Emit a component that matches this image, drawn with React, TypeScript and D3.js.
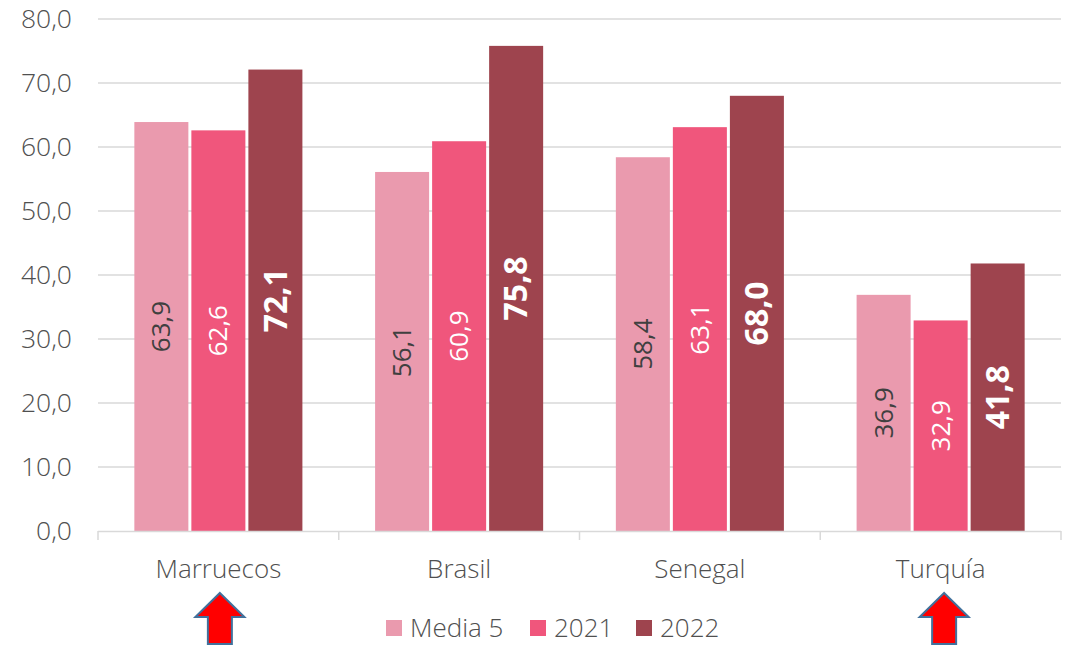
import { useRef, useEffect } from 'react';
import * as d3 from 'd3';

const categories = ['Marruecos', 'Brasil', 'Senegal', 'Turquía'];
const seriesNames = ['Media 5', '2021', '2022'];
const media5 = [63.9, 56.1, 58.4, 36.9];
const y2021 = [62.6, 60.9, 63.1, 32.9];
const y2022 = [72.1, 75.8, 68.0, 41.8];
const yTicks = [0, 10, 20, 30, 40, 50, 60, 70, 80];
const arrowCategories = ['Marruecos', 'Turquía'];

const colors = ['#EA9AAE', '#F0567C', '#9E444E'];
const labelColors = ['#404040', '#FFFFFF', '#FFFFFF'];
const FONT = '"Open Sans", sans-serif';

const fmt = (v: number) => v.toFixed(1).replace('.', ',');

function App() {
    const svgRef = useRef<SVGSVGElement>(null);

    useEffect(() => {
        const svg = d3.select(svgRef.current);
        svg.selectAll('*').remove();
        svg.style('font-family', FONT);

        const values = [media5, y2021, y2022];
        const left = 98;
        const right = 1061;
        const top = 19;
        const bottom = 531;

        const x0 = d3.scaleBand().domain(categories).range([left, right]).paddingInner(0.302).paddingOuter(0.151);
        const x1 = d3.scaleBand().domain(seriesNames).range([0, x0.bandwidth()]).paddingInner(0.0526);
        const y = d3.scaleLinear().domain([0, 80]).range([bottom, top]);

        // gridlines
        svg.append('g')
            .selectAll('line')
            .data(yTicks.filter(t => t > 0))
            .enter()
            .append('line')
            .attr('x1', left)
            .attr('x2', right)
            .attr('y1', d => y(d))
            .attr('y2', d => y(d))
            .attr('stroke', '#D9D9D9')
            .attr('stroke-width', 1.5);

        // y tick labels
        svg.append('g')
            .selectAll('text')
            .data(yTicks)
            .enter()
            .append('text')
            .attr('x', 72)
            .attr('y', d => y(d))
            .attr('dy', '0.35em')
            .attr('text-anchor', 'end')
            .attr('font-size', 26.5)
            .attr('font-weight', 300)
            .attr('fill', '#505050')
            .text(d => fmt(d));

        // bars
        seriesNames.forEach((name, s) => {
            const g = svg.append('g');
            g.selectAll('rect')
                .data(values[s])
                .enter()
                .append('rect')
                .attr('x', (_, i) => x0(categories[i])! + x1(name)!)
                .attr('y', d => y(d))
                .attr('width', x1.bandwidth())
                .attr('height', d => bottom - y(d))
                .attr('fill', colors[s]);

            // rotated value labels
            g.selectAll('text')
                .data(values[s])
                .enter()
                .append('text')
                .attr('transform', (d, i) => {
                    const cx = x0(categories[i])! + x1(name)! + x1.bandwidth() / 2;
                    const cy = (y(d) + bottom) / 2;
                    return `translate(${cx},${cy}) rotate(-90)`;
                })
                .attr('dy', '0.35em')
                .attr('text-anchor', 'middle')
                .attr('font-size', s === 2 ? 32 : 26)
                .attr('font-weight', s === 2 ? 700 : 400)
                .attr('fill', labelColors[s])
                .text(d => fmt(d));
        });

        // category axis
        const step = x0.step();
        const axisTicks = d3.range(categories.length + 1).map(i => left + i * step);
        svg.append('line')
            .attr('x1', left)
            .attr('x2', right)
            .attr('y1', bottom + 0.5)
            .attr('y2', bottom + 0.5)
            .attr('stroke', '#D9D9D9')
            .attr('stroke-width', 1.5);
        svg.append('g')
            .selectAll('line')
            .data(axisTicks)
            .enter()
            .append('line')
            .attr('x1', d => d)
            .attr('x2', d => d)
            .attr('y1', bottom)
            .attr('y2', bottom + 9)
            .attr('stroke', '#D9D9D9')
            .attr('stroke-width', 1.5);

        svg.append('g')
            .selectAll('text')
            .data(categories)
            .enter()
            .append('text')
            .attr('x', d => x0(d)! + x0.bandwidth() / 2)
            .attr('y', 568.5)
            .attr('dy', '0.35em')
            .attr('text-anchor', 'middle')
            .attr('font-size', 26)
            .attr('font-weight', 300)
            .attr('fill', '#505050')
            .text(d => d);

        // red arrows under the highlighted countries
        const arrow = d3.line();
        const arrowOffset = [1.5, 3.5];
        arrowCategories.forEach((c, i) => {
            const cx = x0(c)! + x0.bandwidth() / 2 + arrowOffset[i];
            svg.append('path')
                .attr('d', arrow([
                    [cx, 593],
                    [cx + 24.5, 617],
                    [cx + 12, 617],
                    [cx + 12, 644],
                    [cx - 12, 644],
                    [cx - 12, 617],
                    [cx - 24.5, 617],
                ]) + 'Z')
                .attr('fill', '#FF0000')
                .attr('stroke', '#41719C')
                .attr('stroke-width', 2);
        });

        // legend
        const legendX = [386, 530, 636];
        const legend = svg.append('g');
        seriesNames.forEach((name, s) => {
            legend.append('rect')
                .attr('x', legendX[s])
                .attr('y', 620)
                .attr('width', 16)
                .attr('height', 16)
                .attr('fill', colors[s]);
            legend.append('text')
                .attr('x', legendX[s] + 24)
                .attr('y', 628)
                .attr('dy', '0.35em')
                .attr('font-size', 26)
                .attr('font-weight', 300)
                .attr('fill', '#505050')
                .text(name);
        });
    }, []);

    return (
        <svg
            ref={svgRef}
            width={1068}
            height={645}
            style={{ position: 'absolute', left: 0, top: 0, background: '#fff' }}
        ></svg>
    );
}

export default App;
